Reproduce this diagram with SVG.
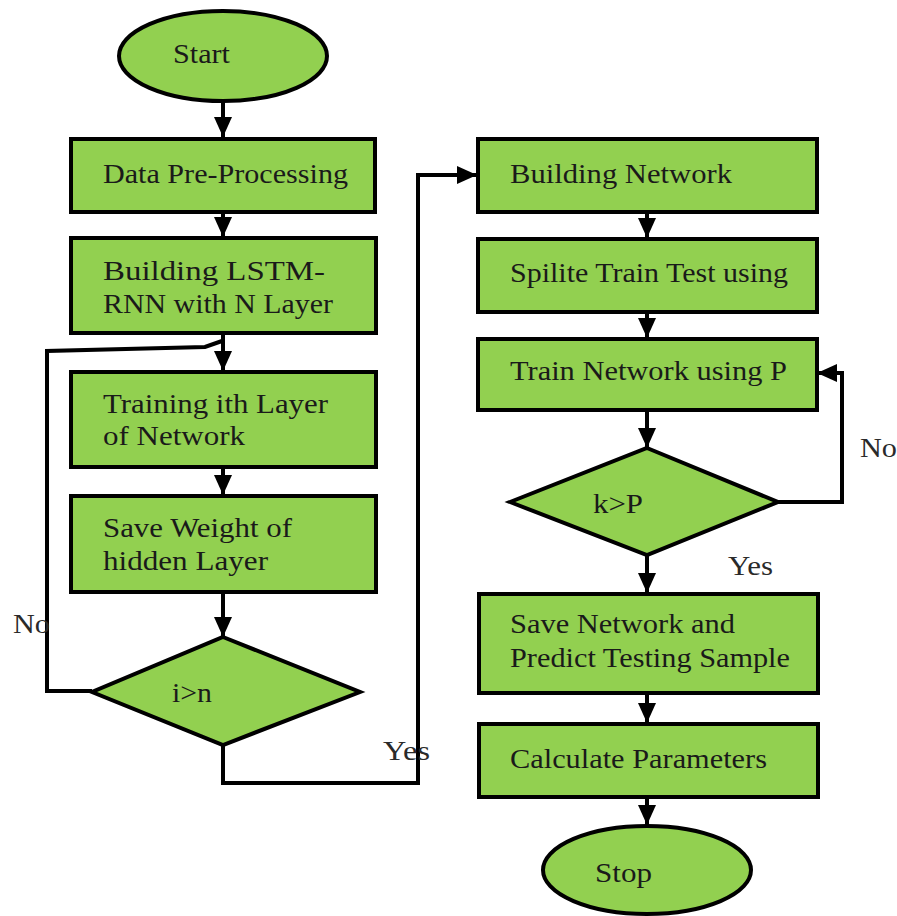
<svg xmlns="http://www.w3.org/2000/svg" width="897" height="916" viewBox="0 0 897 916">
<defs>
<style>
.n{fill:#92D050;stroke:#000;stroke-width:4}
.t{font-family:"Liberation Serif","Times New Roman",serif;font-size:27px;fill:#1a1a1a}
.l{font-family:"Liberation Serif","Times New Roman",serif;font-size:27px;fill:#2a2a2a}
.c{fill:none;stroke:#000;stroke-width:4}
</style>
<marker id="ah" markerUnits="userSpaceOnUse" markerWidth="24" markerHeight="24" viewBox="0 0 24 24" refX="22" refY="12" orient="auto">
<path d="M2,3 L22,12 L2,21 Z" fill="#000"/>
</marker>
</defs>
<rect width="897" height="916" fill="#fff"/>
<g id="connectors">
<line class="c" x1="223" y1="102" x2="223" y2="137" marker-end="url(#ah)"/>
<line class="c" x1="223" y1="212" x2="223" y2="237" marker-end="url(#ah)"/>
<line class="c" x1="223" y1="333" x2="223" y2="371" marker-end="url(#ah)"/>
<line class="c" x1="223" y1="467" x2="223" y2="495" marker-end="url(#ah)"/>
<line class="c" x1="223" y1="592" x2="223" y2="637" marker-end="url(#ah)"/>
<polyline class="c" points="92,691 47,691 47,351 205,347 222,341"/>
<polyline class="c" points="223,745 223,783 418,783 418,175 477,175" marker-end="url(#ah)"/>
<line class="c" x1="647" y1="212" x2="647" y2="238" marker-end="url(#ah)"/>
<line class="c" x1="647" y1="312" x2="647" y2="338" marker-end="url(#ah)"/>
<line class="c" x1="647" y1="410" x2="647" y2="448" marker-end="url(#ah)"/>
<polyline class="c" points="778,502 842,502 842,373 817,373" marker-end="url(#ah)"/>
<line class="c" x1="647" y1="555" x2="647" y2="593" marker-end="url(#ah)"/>
<line class="c" x1="647" y1="693" x2="647" y2="723" marker-end="url(#ah)"/>
<line class="c" x1="647" y1="797" x2="647" y2="825" marker-end="url(#ah)"/>
<text class="l" x="13" y="633" textLength="37" lengthAdjust="spacingAndGlyphs">No</text>
<text class="l" x="383" y="760" textLength="47" lengthAdjust="spacingAndGlyphs">Yes</text>
<text class="l" x="860" y="457" textLength="37" lengthAdjust="spacingAndGlyphs">No</text>
<text class="l" x="728" y="575" textLength="45" lengthAdjust="spacingAndGlyphs">Yes</text>
</g>
<g id="start">
<ellipse class="n" cx="223" cy="56" rx="104" ry="45"/>
<text class="t" x="173" y="63" textLength="57" lengthAdjust="spacingAndGlyphs">Start</text>
</g>
<g id="preprocess">
<rect class="n" x="71" y="139" width="304" height="73"/>
<text class="t" x="103" y="183" textLength="245" lengthAdjust="spacingAndGlyphs">Data Pre-Processing</text>
</g>
<g id="lstm">
<rect class="n" x="71" y="238" width="305" height="95"/>
<text class="t" x="103" y="280" textLength="222" lengthAdjust="spacingAndGlyphs">Building LSTM-</text>
<text class="t" x="103" y="313" textLength="230" lengthAdjust="spacingAndGlyphs">RNN with N Layer</text>
</g>
<g id="training">
<rect class="n" x="71" y="372" width="305" height="95"/>
<text class="t" x="103" y="413" textLength="225" lengthAdjust="spacingAndGlyphs">Training ith Layer</text>
<text class="t" x="103" y="445" textLength="142" lengthAdjust="spacingAndGlyphs">of Network</text>
</g>
<g id="saveweight">
<rect class="n" x="71" y="496" width="305" height="96"/>
<text class="t" x="103" y="537" textLength="189" lengthAdjust="spacingAndGlyphs">Save Weight of</text>
<text class="t" x="103" y="570" textLength="165" lengthAdjust="spacingAndGlyphs">hidden Layer</text>
</g>
<g id="decision1">
<polygon class="n" points="223,637 360,692 223,745 92,692"/>
<text class="t" x="172" y="702" textLength="40" lengthAdjust="spacingAndGlyphs">i&gt;n</text>
</g>
<g id="buildnet">
<rect class="n" x="478" y="139" width="339" height="73"/>
<text class="t" x="510" y="183" textLength="222" lengthAdjust="spacingAndGlyphs">Building Network</text>
</g>
<g id="split">
<rect class="n" x="478" y="239" width="339" height="73"/>
<text class="t" x="510" y="282" textLength="278" lengthAdjust="spacingAndGlyphs">Spilite Train Test using</text>
</g>
<g id="trainnet">
<rect class="n" x="478" y="339" width="339" height="71"/>
<text class="t" x="510" y="380" textLength="277" lengthAdjust="spacingAndGlyphs">Train Network using P</text>
</g>
<g id="decision2">
<polygon class="n" points="647,448 778,502 647,555 510,502"/>
<text class="t" x="593" y="513" textLength="50" lengthAdjust="spacingAndGlyphs">k&gt;P</text>
</g>
<g id="savenet">
<rect class="n" x="479" y="594" width="339" height="99"/>
<text class="t" x="510" y="633" textLength="225" lengthAdjust="spacingAndGlyphs">Save Network and</text>
<text class="t" x="510" y="667" textLength="280" lengthAdjust="spacingAndGlyphs">Predict Testing Sample</text>
</g>
<g id="calc">
<rect class="n" x="479" y="724" width="339" height="73"/>
<text class="t" x="510" y="768" textLength="257" lengthAdjust="spacingAndGlyphs">Calculate Parameters</text>
</g>
<g id="stop">
<ellipse class="n" cx="647" cy="870" rx="104" ry="44"/>
<text class="t" x="595" y="882" textLength="57" lengthAdjust="spacingAndGlyphs">Stop</text>
</g>
</svg>
